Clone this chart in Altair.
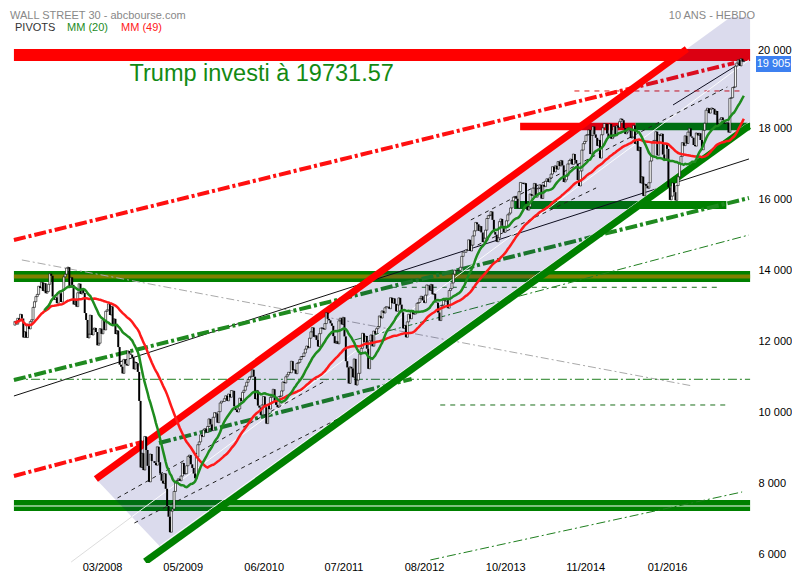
import altair as alt
import pandas as pd

# ---------------- data (weekly closes) ----------------
close_2007 = [12565,12487,12653,12580,12767,12647,12114,12276,12110,12481,12354,12560,12612,12961,13120,13264,13326,13556,13507,13668,13424,13640,13360,13408,13611,13908,13851,13265,13182,13240,13079,13379,13358,13113,13442,13821,13896,14066,14093,13522,13807,13595,13043,13177,12981,13372,13626,13339,13451,13366]
close_2008 = [12800,12606,12099,12207,12743,12182,12348,12381,12266,11894,11951,12361,12216,12610,12325,12849,12891,13058,12745,12987,12480,12638,12210,12307,11843,11347,11288,11101,11496,11370,11326,11734,11659,11628,11544,11220,11421,11388,11143,10325,8451,8852,8378,9325,8943,8497,8046,8829,8635,8629,8579,8515]
close_2009 = [9034,8599,8281,8077,8001,8280,7850,7366,7063,6627,7224,7279,7776,8018,8083,8131,8076,8212,8575,8268,8277,8500,8764,8799,8540,8438,8280,8146,8743,9093,9172,9370,9321,9506,9544,9441,9606,9820,9665,9488,9865,9996,9972,9713,10023,10270,10318,10310,10388,10471,10328,10520]
close_2010 = [10428,10618,10610,10173,10067,10012,10099,10403,10325,10567,10625,10742,10851,10927,10998,11019,11204,11009,10380,10621,10193,10137,9932,10212,10450,10144,9686,10198,10097,10425,10466,10654,10303,10214,10150,10448,10463,10608,10860,10829,11006,11063,11133,11118,11445,11193,11204,11092,11382,11410,11492,11573,11578]
close_2011 = [11675,11787,11872,11824,12092,12273,12391,12130,12170,12044,11859,12221,12377,12380,12342,12505,12811,12638,12596,12512,12441,12151,11952,12004,11934,12582,12657,12480,12681,12143,11445,11269,10818,11285,11240,10993,11509,10771,10913,11103,11645,11809,12231,11983,12153,11796,11231,12019,12184,11866,12294,12218]
close_2012 = [12360,12422,12720,12660,12862,12801,12950,12983,12978,12922,13233,13081,13212,13060,12850,13029,13228,13038,12821,12369,12455,12119,12554,12767,12640,12880,12772,12777,12822,13076,13096,13207,13275,13158,13090,13306,13593,13579,13437,13610,13328,13343,13107,13093,12815,12588,13010,13026,13155,13135,13190,12938]
close_2013 = [13435,13488,13650,13896,14010,13993,13982,14001,14090,14397,14515,14512,14579,14565,14865,14548,14713,14974,15118,15354,15303,15116,15248,15071,14800,14910,15136,15464,15544,15559,15659,15425,15082,15010,14810,14922,15376,15452,15258,15073,15237,15400,15570,15616,15762,15962,16065,16086,16020,15755,16221,16479]
close_2014 = [16470,16437,16459,15880,15699,15794,16154,16104,16322,16453,16066,16303,16323,16413,16027,16409,16361,16513,16583,16491,16607,16717,16924,16776,16948,16851,17068,16944,17100,16961,16493,16554,16663,17001,17098,17138,16988,17280,17113,17010,16544,16380,16805,17391,17573,17634,17810,17828,17959,17281,17805,18053]
close_2015 = [17833,17737,17511,17672,17165,17824,18019,18140,18133,17856,17749,18128,17713,17763,18058,17826,18080,18024,18191,18272,18232,18011,17849,17899,18015,17947,17730,17760,18086,17568,17690,17373,17477,16460,16643,16102,16433,16385,16315,16472,17084,17216,17646,17664,17910,17245,17824,17798,17848,17265,17128,17553,17425]
close_2016 = [16347,15988,16094,16466,16205,15974,16392,16640,17007,17213,17602,17516,17793,17577,17898,18004,17774,17740,17535,17501,17873,17807,17865,17675,17400,17949,18147,18516,18571,18432,18544,18577,18553,18396,18492,18085,18124,18262,18308,18240,18138,18146,18161,17888,18848,18868,19152,19171,19757,19843,19934,19763]
close_2017 = [19964,19886,19905]
first_open = 12460
first_week = "2007-01-19"

x_tick_dates = ["2008-03-31", "2009-05-09", "2010-06-19", "2011-07-24",
                "2012-08-31", "2013-10-12", "2014-11-17", "2016-01-01"]
y_tick_values = [6000, 8000, 10000, 12000, 14000, 16000, 18000]
top_tick_value = 20000
last_price = 19905

# drawn lines: (week index start, value start, week index end, value end)
red_dashdot = [(-0.7, 14859, 515.1, 19845), (-0.7, 8211, 91.2, 9169)]
green_dashdot_thick = [(-0.7, 10915, 525.7, 16042), (103.2, 9141, 284.1, 10944)]
green_dashdot_thin = [(243.1, 12042, 525.7, 15000), (297.5, 5845, 520.8, 7761),
                      (-0.7, 10935, 526.5, 10935)]
gray_dashdot = [(5.0, 14296, 485.4, 10746)]
black_thin = [(-0.7, 10465, 525.7, 17141), (471.3, 18662, 520.8, 19873)]
black_dashed = [(73.5, 7592, 223.3, 10915), (85.6, 6888, 239.6, 9986),
                (326.5, 15423, 510.2, 19169), (331.4, 14718, 416.2, 16324)]
green_dashed = [(269.9, 13527, 503.1, 13527), (304.6, 10211, 510.2, 10211)]
red_dashed = [(400.7, 19056, 522.2, 19056)]
channel_top = [(58.0, 8127, 481.2, 20239)]
channel_bottom = [(93.3, 5797, 525.7, 18070)]
median_out = [(40.3, 5788, 83.8, 7065)]
median_in = [(83.8, 7065, 525.7, 19930), (103.9, 6251, 525.7, 18183)]

# channel fill polygon (week index, upper value, lower value)
fill_weeks = [58.0, 103.9, 512.6, 526.5]
fill_upper = [8127, 9442, 21140, 21140]
fill_lower = [8127, 6222, 17783, 18155]

# horizontal levels
level_top_red = 20070
level_olive = 13831
level_bottom_green = 7380
level_bottom_white = 7366
level_18k = 18056
level_16k = 15845
span_18k_red = (361.8, 444.5)
span_18k_green = (444.5, 526.5)
span_16k_green = (357.5, 509.5)
full_span = (-0.7, 526.5)

# ---------------- helpers ----------------
START = pd.Timestamp(first_week)


def wd(w):
    return (START + pd.Timedelta(days=7.0 * w)).strftime("%Y-%m-%dT%H:%M:%SZ")


def dt(s, hours=0):
    y, m, d = map(int, s.split("-"))
    return alt.DateTime(year=y, month=m, date=d, hours=hours, utc=True)


def spaced(n):
    return f"{n:,}".replace(",", " ")


FONT = "Liberation Sans"
xscale = alt.Scale(type="utc", domain=[dt("2007-01-14", 11), dt("2017-02-20")])
yscale = alt.Scale(domain=[5760, 21140], nice=False, zero=False)
xaxis = alt.Axis(orient="bottom", values=[dt(s) for s in x_tick_dates],
                 labelExpr="utcFormat(datum.value, '%m/%Y')",
                 domain=False, ticks=False, grid=False, labelPadding=4,
                 labelBaseline="middle",
                 labelFontSize=11, labelColor="black", labelFont=FONT, title=None,
                 labelFlush=False, labelOverlap=False, zindex=0)
yaxis = alt.Axis(orient="right", values=y_tick_values,
                 labelExpr="replace(format(datum.value, ',d'), ',', ' ')",
                 domain=False, ticks=False, grid=False, labelPadding=3, labelFontSize=11,
                 labelColor="black", labelFont=FONT, title=None, zindex=0)


def X(f):
    return alt.X(f, type="temporal", scale=xscale, axis=xaxis)


def Y(f):
    return alt.Y(f, type="quantitative", scale=yscale, axis=yaxis)


def seg_df(segs):
    rows = []
    for i, (w0, v0, w1, v1) in enumerate(segs):
        rows.append({"id": i, "date": wd(w0), "v": v0})
        rows.append({"id": i, "date": wd(w1), "v": v1})
    return pd.DataFrame(rows)


def lines(segs, color, width, dash=None, opacity=1.0):
    kw = dict(color=color, strokeWidth=width, clip=True, opacity=opacity, strokeCap="butt")
    if dash:
        kw["strokeDash"] = dash
    return alt.Chart(seg_df(segs)).mark_line(**kw).encode(
        x=X("date"), y=Y("v"), detail="id:N")


def hbar(span, level, color, width):
    df = pd.DataFrame({"date": [wd(span[0])], "date2": [wd(span[1])], "v": [level]})
    return alt.Chart(df).mark_rule(color=color, strokeWidth=width, strokeCap="butt",
                                   clip=True).encode(x=X("date"), x2="date2", y=Y("v"))


def label(text, x, y, color, size=11, align="left"):
    return alt.Chart(pd.DataFrame({"t": [text]})).mark_text(
        align=align, baseline="alphabetic", font=FONT, fontSize=size, color=color
    ).encode(text="t:N", x=alt.value(x), y=alt.value(y))


closes = (close_2007 + close_2008 + close_2009 + close_2010 + close_2011 + close_2012
          + close_2013 + close_2014 + close_2015 + close_2016 + close_2017)
opens = [first_open] + closes[:-1]
candles = pd.DataFrame({"idx": list(range(len(closes))),
                        "date": [wd(i) for i in range(len(closes))],
                        "open": opens, "close": closes})

# ---------------- layers ----------------
layers = [
    hbar(full_span, level_top_red, "#ff0000", 12),
    hbar(full_span, level_olive, "#008000", 11),
    hbar(full_span, level_olive, "#808000", 4),
    hbar(full_span, level_bottom_green, "#008000", 11),
    hbar(full_span, level_bottom_white, "white", 1),
    hbar(span_18k_red, level_18k, "#ff0000", 7.5),
    hbar(span_18k_green, level_18k, "#008000", 7.5),
    hbar(span_16k_green, level_16k, "#008000", 8),
    lines(gray_dashdot, "#aaaaaa", 1, [8, 3, 2, 3]),
    lines(median_out, "#dddddd", 1),
    lines(black_thin, "#111111", 1),
    lines(green_dashed, "#1a6e1a", 1, [5, 5]),
    lines(red_dashed, "#e01010", 1, [5, 5]),
    lines(green_dashdot_thin, "#1f7f1f", 1, [9, 3, 2, 3]),
    lines(red_dashdot, "#ff1010", 4, [12, 3, 3, 3]),
    lines(green_dashdot_thick, "#1f8a1f", 4, [12, 3, 3, 3]),
    alt.Chart(pd.DataFrame({"date": [wd(w) for w in fill_weeks], "v": fill_upper,
                            "v2": fill_lower})).mark_area(
        color="#000080", opacity=0.14, clip=True).encode(x=X("date"), y=Y("v"), y2="v2"),
    lines(median_in, "white", 1, opacity=0.9),
    lines(black_dashed, "#222222", 1, [4, 4]),
    lines(channel_top, "#ff0000", 7),
    lines(channel_bottom, "#008000", 7),
]

cbase = alt.Chart(candles)
layers.append(cbase.transform_filter("datum.close >= datum.open").mark_bar(
    width=2, fill="white", stroke="black", strokeWidth=0.6).encode(
    x=X("date"), y=Y("open"), y2="close"))
layers.append(cbase.transform_filter("datum.close < datum.open").mark_bar(
    width=2, color="black").encode(x=X("date"), y=Y("open"), y2="close"))

ma = cbase.transform_window(ma20="mean(close)", frame=[-19, 0], sort=[alt.SortField("idx")]) \
          .transform_window(ma49="mean(close)", frame=[-48, 0], sort=[alt.SortField("idx")])
layers.append(ma.mark_line(color="#ff1a1a", strokeWidth=2.5).encode(x=X("date"), y=Y("ma49:Q")))
layers.append(ma.transform_filter("datum.idx >= 21").mark_line(
    color="#1e8c1e", strokeWidth=2.5).encode(x=X("date"), y=Y("ma20:Q")))

# texts (plot origin is at page x=9, y=17)
layers += [
    label("WALL STREET 30 - abcbourse.com", 1, 2, "#888888"),
    label("10 ANS - HEBDO", 746, 2, "#888888", align="right"),
    label("PIVOTS", 6, 14, "#333333"),
    label("MM (20)", 58, 14, "#1e8c1e"),
    label("MM (49)", 112, 14, "#ff2020"),
    label("Trump investi à 19731.57", 120.5, 64, "#138a13", size=23.5),
    label(spaced(top_tick_value), 749, 37, "black"),
]

layers.append(alt.Chart(pd.DataFrame({"v": [20042], "v2": [19592]})).mark_rect(
    color="#3d80f0").encode(x=alt.value(747), x2=alt.value(782), y=Y("v"), y2="v2"))
layers.append(alt.Chart(pd.DataFrame({"v": [19817], "t": [spaced(last_price)]})).mark_text(
    align="center", baseline="middle", font=FONT, fontSize=11, color="white").encode(
    x=alt.value(764.5), y=Y("v"), text="t:N"))

chart = alt.layer(*layers).properties(
    width=746, height=546,
    autosize=alt.AutoSizeParams(type="none"),
    padding={"left": 1, "top": 9, "right": 37, "bottom": 9},
).configure_view(stroke=None)

chart.save("out.html", embed_options={"renderer": "svg", "actions": False})
